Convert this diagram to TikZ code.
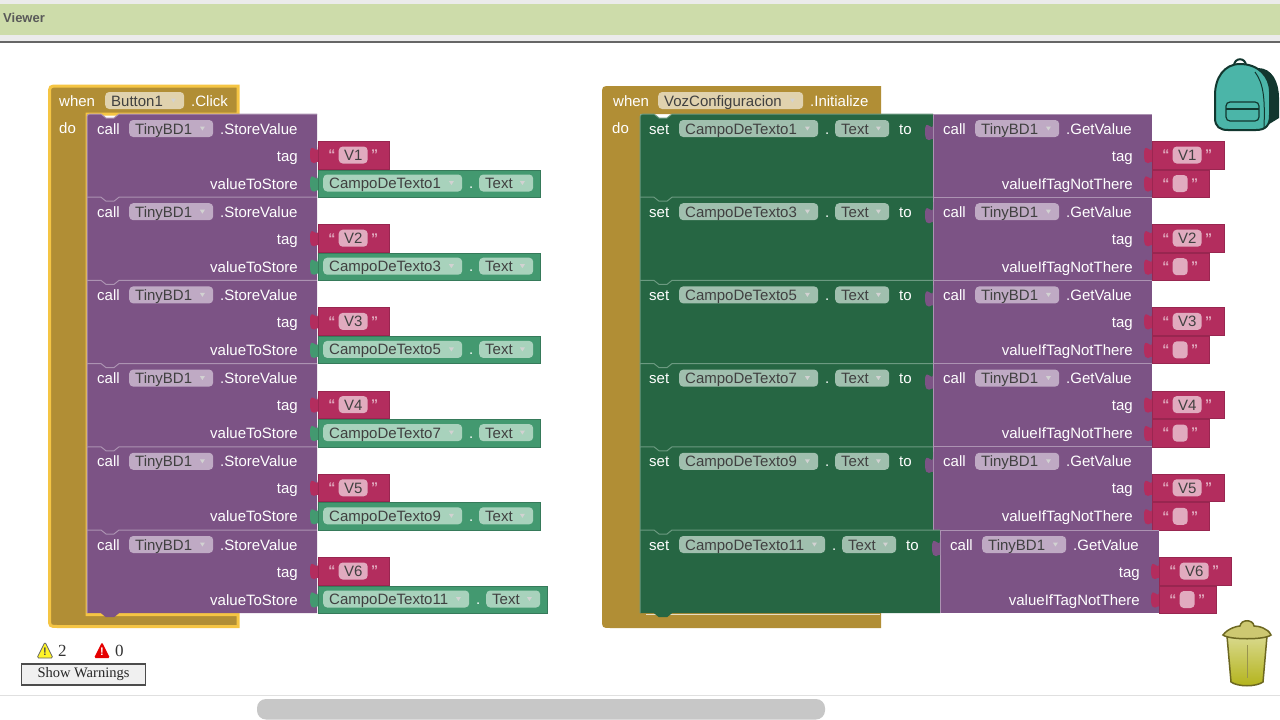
\documentclass[tikz,border=0pt]{standalone}
\usepackage{fontspec}
\setmainfont{Liberation Sans}
\newfontfamily\serifui{Liberation Serif}
\usetikzlibrary{positioning}

\definecolor{viewerbar}{HTML}{CDDCAA}
\definecolor{eventcol}{HTML}{B18E35}
\definecolor{eventedge}{HTML}{F5C544}
\definecolor{eventpill}{HTML}{E0D2AE}
\definecolor{procol}{HTML}{7C5385}
\definecolor{proedge}{HTML}{AC93B2}
\definecolor{propill}{HTML}{BFAAC4}
\definecolor{setcol}{HTML}{266643}
\definecolor{setedge}{HTML}{6C9A81}
\definecolor{setpill}{HTML}{A0BFAE}
\definecolor{getcol}{HTML}{439970}
\definecolor{getpill}{HTML}{A8D2BC}
\definecolor{strcol}{HTML}{B32D5E}
\definecolor{strpill}{HTML}{E1ABBF}
\definecolor{packcol}{HTML}{4BB5A8}
\definecolor{packdark}{HTML}{12372F}

% block with a notch on top and a tab below: x0, x1, y, radius, colours
\newcommand{\rowblk}[6]{
  \fill[#5] (#1,#3+#4) .. controls (#1,#3) .. (#1+#4,#3) -- (#1+14,#3) -- (#1+19,#3+4) -- (#1+27,#3+4) -- (#1+32,#3) -- (#2,#3)
    -- (#2,#3+83.2) -- (#1+32,#3+83.2) -- (#1+27,#3+87.2) -- (#1+19,#3+87.2) -- (#1+14,#3+83.2) -- (#1,#3+83.2) -- cycle;
  \draw[#6, line width=1pt] (#1,#3+83.2) -- (#1,#3+#4) .. controls (#1,#3) .. (#1+#4,#3) -- (#1+14,#3) -- (#1+19,#3+4) -- (#1+27,#3+4) -- (#1+32,#3) -- (#2,#3);
}
% dropdown field: name, x, y, width, text, colour
\newcommand{\pillnode}[6]{
  \node[pill, fill=#6, text width=#4pt-13pt] (#1) at (#2,#3) {#5};
  \pic at ([xshift=-11pt]#1.east) {caret};
}
% text block: name, x, top, width, pill width, text
\newcommand{\strnode}[6]{
  \node[strblk, minimum width=#4pt] (#1) at (#2,#3) {};
  \pic[fill=strcol] at (#2,#3+11) {puzzletab};
  \node[strpillb, minimum width=#5pt] (#1t) at (#2+20.5,#3+14) {#6};
  \node[quote, left=3pt of #1t] (#1a) {“};
  \node[quote, right=3pt of #1t] (#1b) {”};
}

\begin{document}
\begin{tikzpicture}[x=1pt,y=-1pt]
  \tikzset{
    lbl/.style={text=white, inner sep=0pt, text height=11pt, text depth=0pt,
      font=\fontsize{15}{18}\selectfont},
    pill/.style={rounded corners=4pt, inner xsep=6pt, inner ysep=0pt, anchor=west,
      minimum height=17pt, text height=11pt, text depth=0pt, text=black!75, align=left,
      font=\fontsize{15}{18}\selectfont},
    strblk/.style={fill=strcol, draw=strcol!85!black, line width=.6pt, anchor=north west, minimum height=27.5pt, inner sep=0pt},
    strpillb/.style={fill=strpill, rounded corners=4pt, inner sep=0pt, anchor=west, minimum height=17pt,
      text height=11pt, text depth=0pt, text=black!75, font=\fontsize{15}{18}\selectfont},
    quote/.style={text=strpill, inner sep=0pt, font=\fontsize{14}{16}\selectfont\bfseries},
    getblk/.style={fill=getcol, draw=getcol!80!black, line width=.6pt, anchor=north west, minimum height=27.5pt, inner sep=0pt},
    caret/.pic={\fill[white!65!gray] (-2.5,-2) -- (2.5,-2) -- (0,2) -- cycle;},
    puzzletab/.pic={\fill[pic actions] (0,-10) -- (0,-5) .. controls (0,5) and (-8,-13) .. (-8,2.5)
      .. controls (-8,18) and (0,7.5) .. (0,10) -- cycle;},
    warntri/.style={rounded corners=1.5pt, line width=.8pt},
    warnnum/.style={inner sep=0pt, text=black!80, font=\serifui\fontsize{17}{20}\selectfont},
  }
  \useasboundingbox (0,0) rectangle (1280,720);
  \fill[white] (0,0) rectangle (1280,720);

  % viewer frame
  \fill[black!8] (0,0) rectangle (1280,41);
  \fill[viewerbar] (0,4) rectangle (1280,35);
  \fill[black!60] (0,41) rectangle (1280,43);
  \node[anchor=west, inner sep=0pt, text=black!65, font=\fontsize{13}{15}\selectfont\bfseries] (viewer) at (3,18) {Viewer};
  \draw[black!12] (0,695) -- (1280,695);
  \fill[black!22, rounded corners=9pt] (257,699) rectangle (825,719.5);

  % event blocks
  \draw[fill=eventcol, draw=eventedge, line width=3pt] (49.5,95) .. controls (49.5,86) .. (58,86) -- (238,86) -- (238,114)
    -- (87,114) -- (87,614.5) -- (238,614.5) -- (238,626.5) -- (58,626.5) .. controls (49.5,626.5) .. (49.5,618) -- cycle;
  \fill[eventcol] (602,95) .. controls (602,86) .. (611,86) -- (881,86) -- (881,114)
    -- (640,114) -- (640,613) -- (881,613) -- (881,628) -- (611,628) .. controls (602,628) .. (602,619) -- cycle;
  \draw[white!70!eventcol, line width=1pt] (646,614.5) -- (880,614.5);

  \node[lbl, anchor=west] (when1) at (59,100.5) {when};
  \pillnode{btn}{105}{100.5}{80}{Button1}{eventpill}
  \node[lbl, anchor=west] (click) at (191,100.5) {.Click};
  \node[lbl, anchor=west] (do1) at (59,127.5) {do};
  \node[lbl, anchor=west] (when2) at (613,100.5) {when};
  \pillnode{voz}{658}{100.5}{146}{VozConfiguracion}{eventpill}
  \node[lbl, anchor=west] (init) at (810,100.5) {.Initialize};
  \node[lbl, anchor=west] (do2) at (612,127.5) {do};

  % the six rows of both stacks
  \foreach \i/\vv/\cdt/\dd in {1/V1/CampoDeTexto1/0, 2/V2/CampoDeTexto3/0, 3/V3/CampoDeTexto5/0,
                               4/V4/CampoDeTexto7/0, 5/V5/CampoDeTexto9/0, 6/V6/CampoDeTexto11/7}
  {
    \pgfmathsetmacro{\yy}{114+83.2*(\i-1)}
    \pgfmathsetmacro{\rr}{ifthenelse(\i==1,6,0)}
    % store
    \rowblk{87}{317}{\yy}{\rr}{procol}{proedge}
    \node[lbl, anchor=west] (call\i) at (97,\yy+14.5) {call};
    \pillnode{tiny\i}{129}{\yy+14.5}{85}{TinyBD1}{propill}
    \node[lbl, anchor=west] (store\i) at (220,\yy+14.5) {.StoreValue};
    \node[lbl, anchor=east] (tag\i) at (298,\yy+41.5) {tag};
    \node[lbl, anchor=east] (val\i) at (298,\yy+69.5) {valueToStore};
    \strnode{v\i}{318}{\yy+27}{71}{29}{\vv}
    \node[getblk, minimum width=222pt+\dd pt] (get\i) at (318,\yy+55.5) {};
    \pic[fill=getcol] at (318,\yy+66.5) {puzzletab};
    \pillnode{cdt\i}{323}{\yy+69}{140+\dd}{\cdt}{getpill}
    \node[lbl, anchor=west] (dot\i) at (469+\dd,\yy+69) {.};
    \pillnode{txt\i}{479+\dd}{\yy+69}{55}{Text}{getpill}

    % set
    \rowblk{640}{933+\dd}{\yy}{\rr}{setcol}{setedge}
    \node[lbl, anchor=west] (set\i) at (649,\yy+14.5) {set};
    \pillnode{sc\i}{679}{\yy+14.5}{140+\dd}{\cdt}{setpill}
    \node[lbl, anchor=west] (sd\i) at (825+\dd,\yy+14.5) {.};
    \pillnode{st\i}{835+\dd}{\yy+14.5}{55}{Text}{setpill}
    \node[lbl, anchor=west] (to\i) at (899+\dd,\yy+14.5) {to};

    % getvalue
    \fill[procol] (933+\dd,\yy) rectangle (1152+\dd,\yy+83.2);
    \draw[proedge, line width=1pt] (933+\dd,\yy+83.2) -- (933+\dd,\yy) -- (1152+\dd,\yy);
    \pic[fill=procol] at (933+\dd,\yy+15) {puzzletab};
    \node[lbl, anchor=west] (gc\i) at (943+\dd,\yy+14.5) {call};
    \pillnode{gt\i}{975+\dd}{\yy+14.5}{85}{TinyBD1}{propill}
    \node[lbl, anchor=west] (gv\i) at (1066+\dd,\yy+14.5) {.GetValue};
    \node[lbl, anchor=east] (gtag\i) at (1133+\dd,\yy+41.5) {tag};
    \node[lbl, anchor=east] (gif\i) at (1133+\dd,\yy+69.5) {valueIfTagNotThere};
    \strnode{g\i}{1152+\dd}{\yy+27}{72}{29}{\vv}
    \strnode{e\i}{1152+\dd}{\yy+55.5}{57}{15}{}
  }

  % backpack
  \fill[packdark] (1258,68) .. controls (1272,68) and (1279,82) .. (1279,98) -- (1279,118) -- (1266,126) -- cycle;
  \draw[packdark, line width=2pt] (1234,66) .. controls (1234,57) and (1246,57) .. (1246,66);
  \draw[fill=packcol, draw=packdark, line width=2pt] (1240,64) .. controls (1224,64) and (1215,78) .. (1215,95) -- (1215,118)
    .. controls (1215,127) and (1220,130) .. (1228,130) -- (1256,130) .. controls (1266,130) and (1270,125) .. (1270,115)
    -- (1270,92) .. controls (1270,76) and (1258,64) .. (1240,64) -- cycle;
  \draw[packdark, line width=1.2pt, rounded corners=4pt] (1226,102) rectangle (1259,121);
  \draw[packdark, line width=1.2pt] (1226,109) -- (1259,109);
  \draw[packdark, line width=1pt] (1255,72) .. controls (1264,84) and (1265,100) .. (1264,128);

  % trash
  \draw[top color=white!70!olive, bottom color=olive!60!white, draw=black!30!olive, line width=1.5pt]
    (1227,636) -- (1267,636) -- (1263,682) .. controls (1256,687) and (1238,687) .. (1231,682) -- cycle;
  \draw[black!30!olive!70, line width=1pt] (1247,645) -- (1247,678);
  \draw[fill=white!55!olive, draw=black!30!olive, line width=1.5pt] (1223,635) .. controls (1228,628) and (1238,626) .. (1240,626)
    .. controls (1241,619) and (1253,619) .. (1254,626) .. controls (1258,626) and (1268,628) .. (1271,635) .. controls (1265,640) and (1229,640) .. (1223,635) -- cycle;

  % warnings
  \draw[warntri, fill=yellow!85!white, draw=black!60] (45,642) -- (53,658) -- (37,658) -- cycle;
  \node[inner sep=0pt, text=black!70, font=\fontsize{11}{12}\selectfont\bfseries] (warnmark) at (45,651.5) {!};
  \node[warnnum, anchor=west] (warncount) at (58,651) {2};
  \fill[warntri, red!90!black] (102,642) -- (110,658) -- (94,658) -- cycle;
  \node[inner sep=0pt, text=white, font=\fontsize{11}{12}\selectfont\bfseries] (errmark) at (102,651.5) {!};
  \node[warnnum, anchor=west] (errcount) at (115,651) {0};
  \node[draw=black!70, fill=black!6, line width=1.3pt, minimum width=124pt, minimum height=21pt, inner sep=0pt,
    text=black!85, font=\serifui\fontsize{14.5}{16}\selectfont] (warnbtn) at (83.5,674.5) {Show Warnings};
\end{tikzpicture}
\end{document}
